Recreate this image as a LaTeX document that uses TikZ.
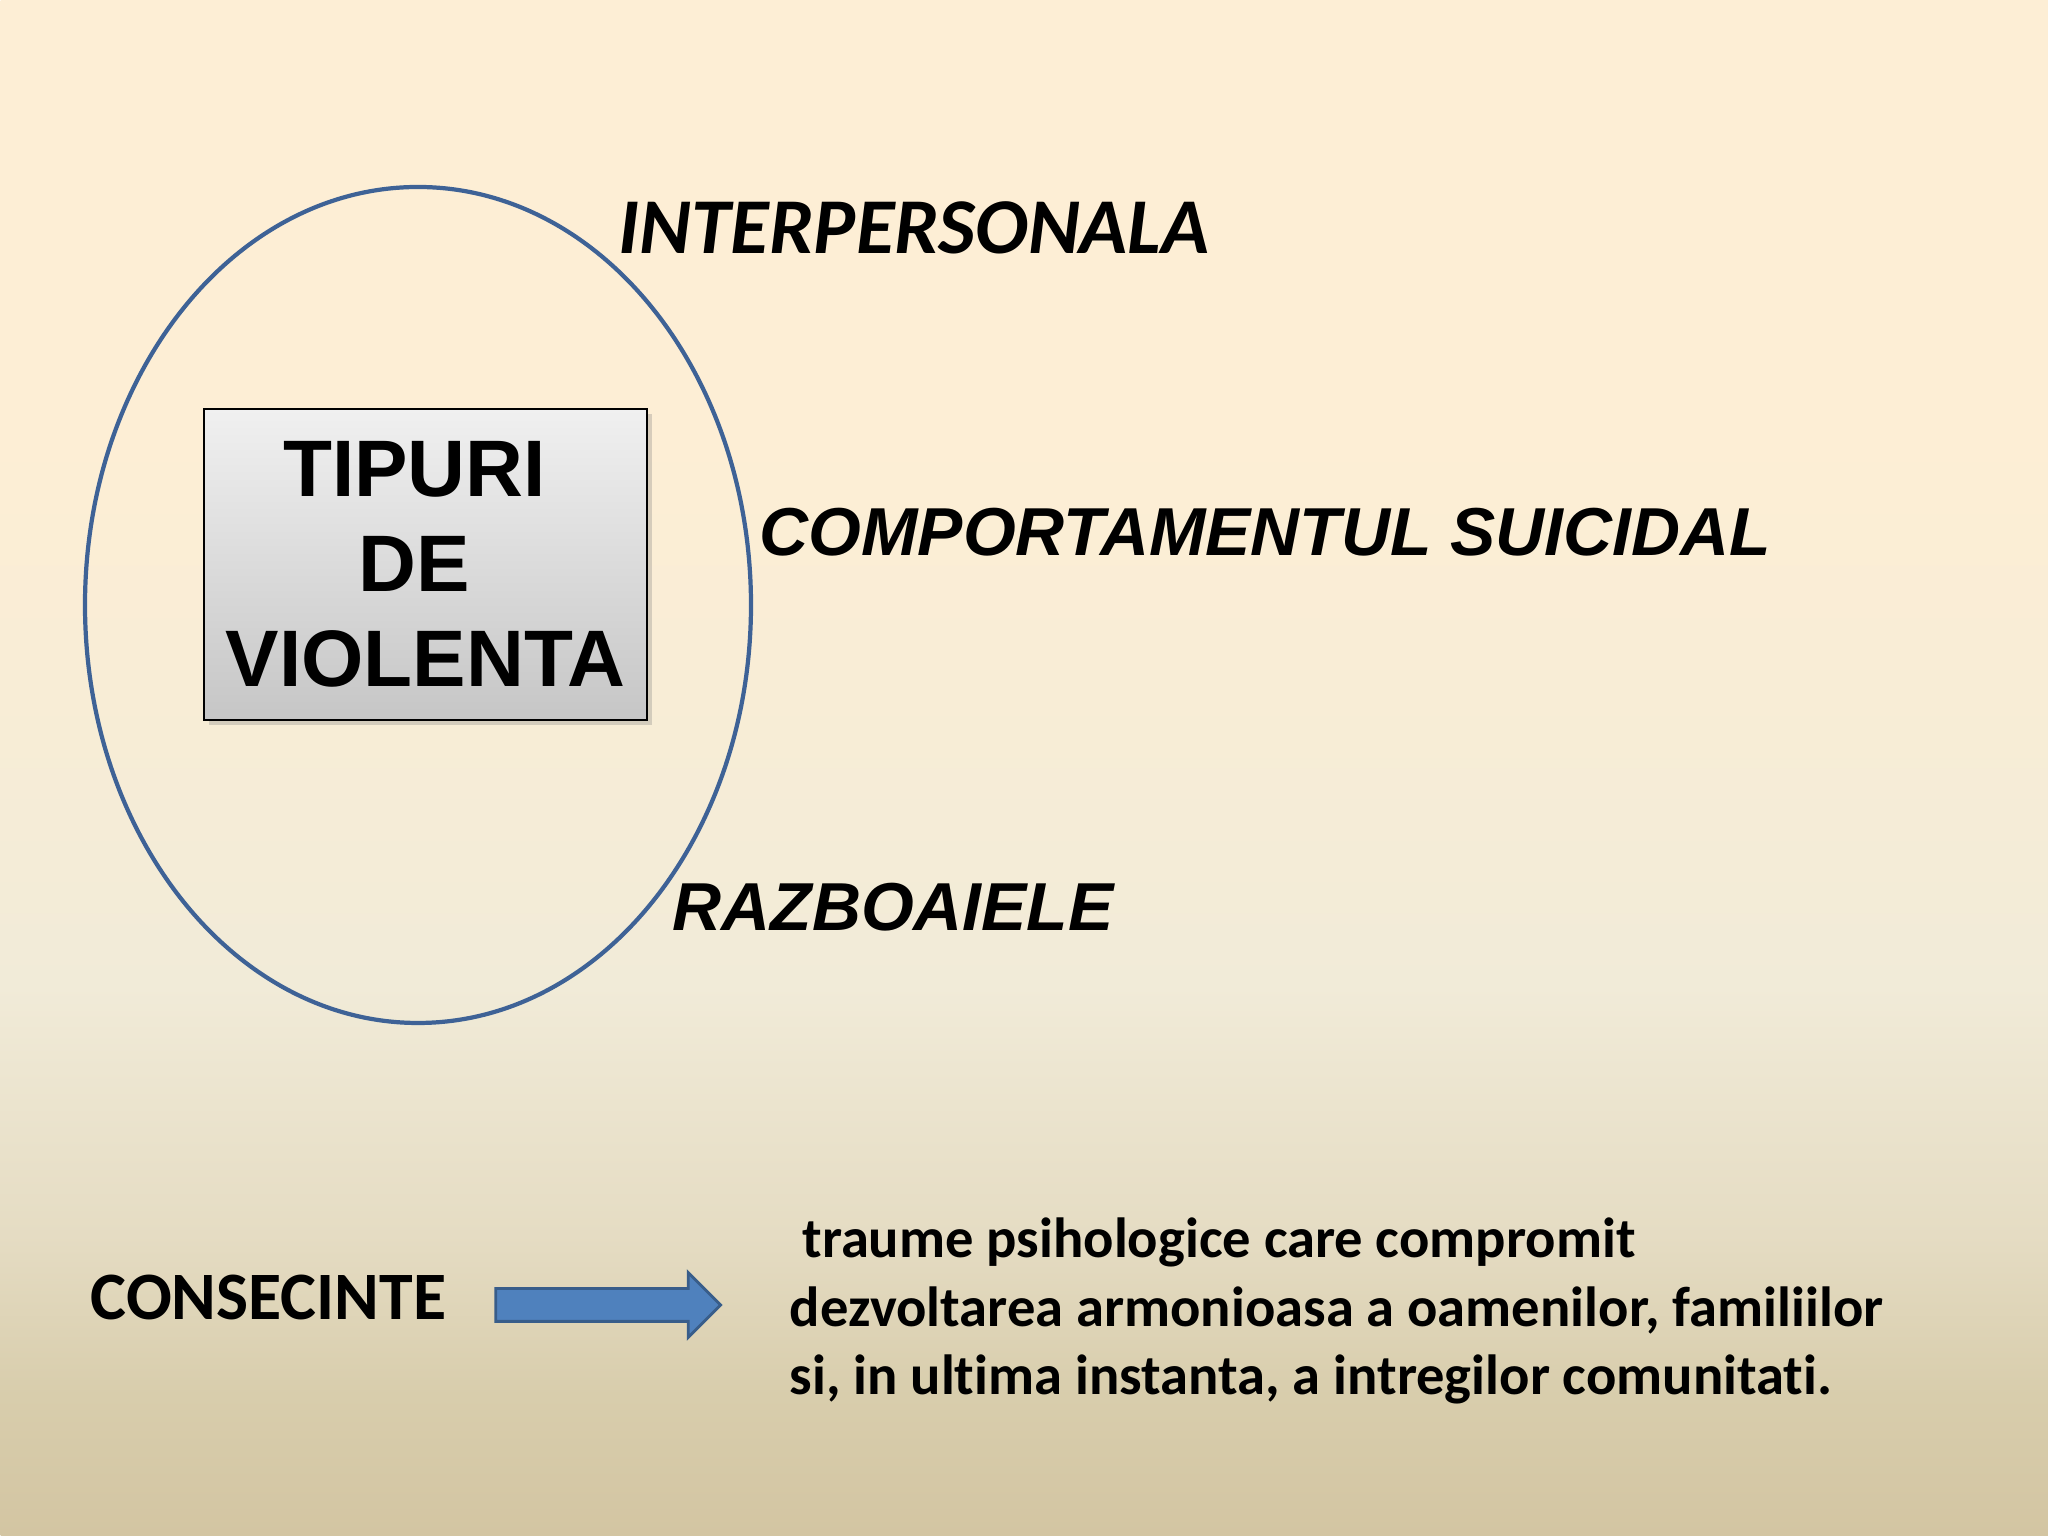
\documentclass[tikz,border=0pt]{standalone}
\usepackage{fontspec}
\setmainfont{Carlito}[RawFeature={-liga;-clig;-calt;-dlig}]
\newfontfamily\arialfont{Liberation Sans}
\usetikzlibrary{shadows,shapes.arrows}

\definecolor{bgtop}{HTML}{FDEED5}
\definecolor{bgupper}{HTML}{F8EDD6}
\definecolor{bgmid}{HTML}{F1EBD8}
\definecolor{bglow}{HTML}{E5DCC3}
\definecolor{bgfoot}{HTML}{D8CDAC}
\definecolor{bgbot}{HTML}{D3C5A2}
\definecolor{ringblue}{HTML}{3E6296}
\definecolor{arrowfill}{HTML}{4F81BD}
\definecolor{arrowline}{HTML}{385D8A}
\definecolor{boxtop}{HTML}{F0F0F0}
\definecolor{boxbot}{HTML}{C6C6C6}

\pgfdeclareverticalshading{slidebg}{20.48cm}{color(0cm)=(bgbot); color(1.4cm)=(bgfoot);
  color(3cm)=(bglow); color(5.5cm)=(bgmid); color(8.4cm)=(bgupper); color(11cm)=(bgtop); color(15.36cm)=(bgtop)}

\newcommand{\trail}{\rule{6.3pt}{0pt}}

\tikzset{
  typebox/.style={draw=black, line width=0.8pt, top color=boxtop, bottom color=boxbot,
    minimum width=4.43cm, minimum height=3.11cm, inner sep=0pt, align=center,
    font=\arialfont\bfseries\fontsize{22.8}{27}\selectfont,
    drop shadow={shadow xshift=1.5pt, shadow yshift=-1.5pt, opacity=0.3}},
  kindlabel/.style={anchor=base west, inner sep=0pt, font=\arialfont\bfseries\itshape\fontsize{19.3}{23}\selectfont},
  bodytext/.style={anchor=base west, inner sep=0pt, font=\bfseries\fontsize{16.1}{19.4}\selectfont},
  blockarrow/.style={single arrow, draw=arrowline, fill=arrowfill, line width=0.8pt,
    minimum height=2.25cm, inner xsep=0pt, inner ysep=0.15cm, text height=0pt, text depth=0pt,
    single arrow head extend=0.16cm}
}

\begin{document}
\begin{tikzpicture}
    \useasboundingbox (0,0) rectangle (20.48,15.36);
    \node[inner sep=0pt, anchor=south west] (bg) at (0,0) {\pgfuseshading{slidebg}};

    % types of violence
    \draw[ringblue, line width=1.2pt] (4.18,9.31) ellipse (3.33cm and 4.18cm);
    \node[typebox] (tipuri) at (4.255,9.715) {TIPURI\trail\\DE\trail\\VIOLENTA};

    \node[kindlabel, font=\bfseries\itshape\fontsize{22.5}{26}\selectfont] (inter) at (6.18,12.82) {INTERPERSONALA};
    \node[kindlabel] (suicid) at (7.59,9.80) {COMPORTAMENTUL SUICIDAL};
    \node[kindlabel] (razb) at (6.72,6.05) {RAZBOAIELE};

    % consequences
    \node[anchor=base west, inner sep=0pt, font=\bfseries\fontsize{19.3}{23}\selectfont] (cons) at (0.90,2.16) {CONSECINTE};
    \node[blockarrow] (arr) at (6.0,2.31) {};
    \node[bodytext] (l1) at (7.89,2.78) {\ traume psihologice care compromit};
    \node[bodytext] (l2) at (7.89,2.09) {dezvoltarea armonioasa a oamenilor, familiilor};
    \node[bodytext] (l3) at (7.89,1.41) {si, in ultima instanta, a intregilor comunitati.};
\end{tikzpicture}
\end{document}
